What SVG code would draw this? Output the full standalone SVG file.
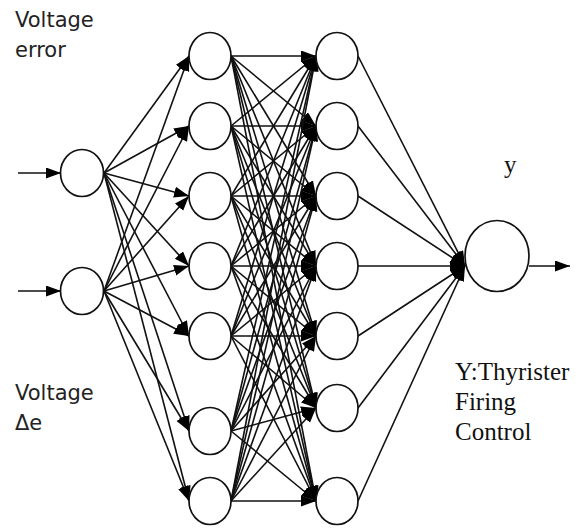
<svg xmlns="http://www.w3.org/2000/svg" width="586" height="528" viewBox="0 0 586 528">
<style>
.n{fill:#fff;stroke:#111;stroke-width:1.7}
.c line{stroke:#111;stroke-width:1.6;marker-end:url(#ah)}
.s{font-family:"DejaVu Sans",Verdana,sans-serif;font-size:21px;fill:#222}
.r{font-family:"Liberation Serif","Times New Roman",serif;font-size:25px;fill:#111}
</style>
<defs>
<marker id="ah" markerUnits="userSpaceOnUse" markerWidth="17" markerHeight="13" refX="15" refY="5.5" orient="auto"><path d="M0,0 L15,5.5 L0,11 z" fill="#000"/></marker>
</defs>
<rect width="586" height="528" fill="#fff"/>
<g id="connectors" class="c">
<line x1="18" y1="173" x2="61" y2="173"/>
<line x1="18" y1="291" x2="61" y2="291"/>
<line x1="104" y1="173" x2="189" y2="56"/>
<line x1="104" y1="173" x2="189" y2="126"/>
<line x1="104" y1="173" x2="189" y2="196"/>
<line x1="104" y1="173" x2="189" y2="266"/>
<line x1="104" y1="173" x2="189" y2="336"/>
<line x1="104" y1="173" x2="189" y2="431"/>
<line x1="104" y1="173" x2="189" y2="501"/>
<line x1="104" y1="291" x2="189" y2="56"/>
<line x1="104" y1="291" x2="189" y2="126"/>
<line x1="104" y1="291" x2="189" y2="196"/>
<line x1="104" y1="291" x2="189" y2="266"/>
<line x1="104" y1="291" x2="189" y2="336"/>
<line x1="104" y1="291" x2="189" y2="431"/>
<line x1="104" y1="291" x2="189" y2="501"/>
<line x1="231" y1="56" x2="316" y2="56"/>
<line x1="231" y1="56" x2="316" y2="126"/>
<line x1="231" y1="56" x2="316" y2="196"/>
<line x1="231" y1="56" x2="316" y2="266"/>
<line x1="231" y1="56" x2="316" y2="336"/>
<line x1="231" y1="56" x2="316" y2="408"/>
<line x1="231" y1="56" x2="316" y2="501"/>
<line x1="231" y1="126" x2="316" y2="56"/>
<line x1="231" y1="126" x2="316" y2="126"/>
<line x1="231" y1="126" x2="316" y2="196"/>
<line x1="231" y1="126" x2="316" y2="266"/>
<line x1="231" y1="126" x2="316" y2="336"/>
<line x1="231" y1="126" x2="316" y2="408"/>
<line x1="231" y1="126" x2="316" y2="501"/>
<line x1="231" y1="196" x2="316" y2="56"/>
<line x1="231" y1="196" x2="316" y2="126"/>
<line x1="231" y1="196" x2="316" y2="196"/>
<line x1="231" y1="196" x2="316" y2="266"/>
<line x1="231" y1="196" x2="316" y2="336"/>
<line x1="231" y1="196" x2="316" y2="408"/>
<line x1="231" y1="196" x2="316" y2="501"/>
<line x1="231" y1="266" x2="316" y2="56"/>
<line x1="231" y1="266" x2="316" y2="126"/>
<line x1="231" y1="266" x2="316" y2="196"/>
<line x1="231" y1="266" x2="316" y2="266"/>
<line x1="231" y1="266" x2="316" y2="336"/>
<line x1="231" y1="266" x2="316" y2="408"/>
<line x1="231" y1="266" x2="316" y2="501"/>
<line x1="231" y1="336" x2="316" y2="56"/>
<line x1="231" y1="336" x2="316" y2="126"/>
<line x1="231" y1="336" x2="316" y2="196"/>
<line x1="231" y1="336" x2="316" y2="266"/>
<line x1="231" y1="336" x2="316" y2="336"/>
<line x1="231" y1="336" x2="316" y2="408"/>
<line x1="231" y1="336" x2="316" y2="501"/>
<line x1="231" y1="431" x2="316" y2="56"/>
<line x1="231" y1="431" x2="316" y2="126"/>
<line x1="231" y1="431" x2="316" y2="196"/>
<line x1="231" y1="431" x2="316" y2="266"/>
<line x1="231" y1="431" x2="316" y2="336"/>
<line x1="231" y1="431" x2="316" y2="408"/>
<line x1="231" y1="431" x2="316" y2="501"/>
<line x1="231" y1="501" x2="316" y2="56"/>
<line x1="231" y1="501" x2="316" y2="126"/>
<line x1="231" y1="501" x2="316" y2="196"/>
<line x1="231" y1="501" x2="316" y2="266"/>
<line x1="231" y1="501" x2="316" y2="336"/>
<line x1="231" y1="501" x2="316" y2="408"/>
<line x1="231" y1="501" x2="316" y2="501"/>
<line x1="358" y1="56" x2="465" y2="266"/>
<line x1="358" y1="126" x2="465" y2="266"/>
<line x1="358" y1="196" x2="465" y2="266"/>
<line x1="358" y1="266" x2="465" y2="266"/>
<line x1="358" y1="336" x2="465" y2="266"/>
<line x1="358" y1="408" x2="465" y2="266"/>
<line x1="358" y1="501" x2="465" y2="266"/>
<line x1="529" y1="266" x2="570" y2="266"/>
</g>
<g id="in1"><ellipse class="n" cx="82" cy="173" rx="21.5" ry="23.5"/></g>
<g id="in2"><ellipse class="n" cx="82" cy="291" rx="21.5" ry="23.5"/></g>
<g id="h1_1"><ellipse class="n" cx="210" cy="56" rx="21" ry="23.5"/></g>
<g id="h1_2"><ellipse class="n" cx="210" cy="126" rx="21" ry="23.5"/></g>
<g id="h1_3"><ellipse class="n" cx="210" cy="196" rx="21" ry="23.5"/></g>
<g id="h1_4"><ellipse class="n" cx="210" cy="266" rx="21" ry="23.5"/></g>
<g id="h1_5"><ellipse class="n" cx="210" cy="336" rx="21" ry="23.5"/></g>
<g id="h1_6"><ellipse class="n" cx="210" cy="431" rx="21" ry="23.5"/></g>
<g id="h1_7"><ellipse class="n" cx="210" cy="501" rx="21" ry="23.5"/></g>
<g id="h2_1"><ellipse class="n" cx="337" cy="56" rx="21" ry="23.5"/></g>
<g id="h2_2"><ellipse class="n" cx="337" cy="126" rx="21" ry="23.5"/></g>
<g id="h2_3"><ellipse class="n" cx="337" cy="196" rx="21" ry="23.5"/></g>
<g id="h2_4"><ellipse class="n" cx="337" cy="266" rx="21" ry="23.5"/></g>
<g id="h2_5"><ellipse class="n" cx="337" cy="336" rx="21" ry="23.5"/></g>
<g id="h2_6"><ellipse class="n" cx="337" cy="408" rx="21" ry="23.5"/></g>
<g id="h2_7"><ellipse class="n" cx="337" cy="501" rx="21" ry="23.5"/></g>
<g id="out"><ellipse class="n" cx="497" cy="256" rx="32" ry="35.5"/></g>
<g id="labels">
<text class="s" x="15" y="27">Voltage</text>
<text class="s" x="15" y="57">error</text>
<text class="s" x="15" y="400">Voltage</text>
<text class="s" x="15" y="430">Δe</text>
<text class="r" x="504" y="173">y</text>
<text class="r" x="455" y="380">Y:Thyrister</text>
<text class="r" x="455" y="410">Firing</text>
<text class="r" x="455" y="440">Control</text>
</g>
</svg>
